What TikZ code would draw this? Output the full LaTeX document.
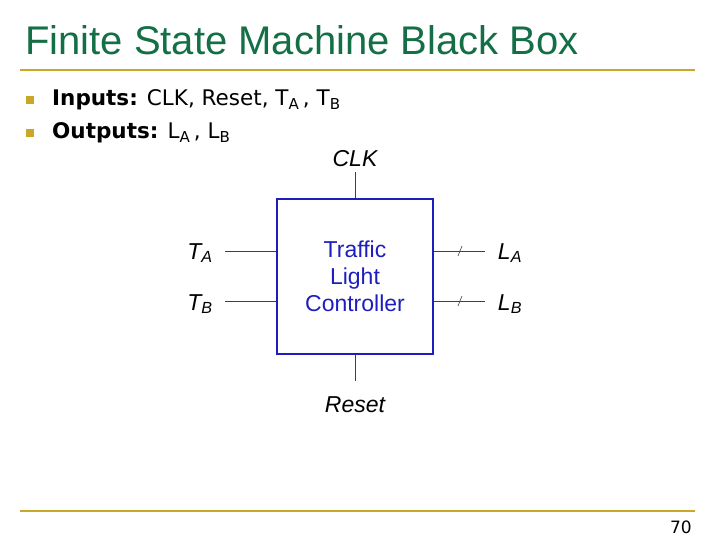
\documentclass[tikz,border=0pt]{standalone}
\usepackage{fontspec}
\setmainfont{Liberation Sans}
\newfontfamily\tah{DejaVu Sans}
\begin{document}
\begin{tikzpicture}[x=1pt,y=-1pt,
  wire/.style={draw=black!75,line width=1pt},
  lbl/.style={font=\fontsize{23}{25}\selectfont\itshape,inner sep=0pt},
  gold/.style={draw={rgb,255:red,200;green,168;blue,40},line width=2.5pt}]
\useasboundingbox (0,0) rectangle (720,540);
\definecolor{ttl}{RGB}{20,110,70}
\definecolor{gd}{RGB}{200,168,40}
\node[anchor=west,text=ttl,font=\fontsize{40}{42}\selectfont,inner sep=0pt] (title) at (25,40) {Finite State Machine Black Box};
\draw[gold] (20,70) -- (695,70);
\draw[gold] (20,511) -- (695,511);
\node[anchor=east,font=\fontsize{17}{18}\selectfont\tah,inner sep=0pt] (pg) at (692,527) {70};
\fill[gd] (26,96) rectangle (34,104);
\fill[gd] (26,129) rectangle (34,137);
\node[anchor=west,font=\fontsize{21.5}{23}\selectfont\tah,inner sep=0pt] (b1) at (52,100) {\textbf{Inputs:} CLK, Reset, T\textsubscript{A}\,, T\textsubscript{B}};
\node[anchor=west,font=\fontsize{21.5}{23}\selectfont\tah,inner sep=0pt] (b2) at (52,133) {\textbf{Outputs:} L\textsubscript{A}\,, L\textsubscript{B}};
\node[draw={rgb,255:red,30;green,30;blue,190},line width=2pt,minimum width=156,minimum height=155,inner sep=0pt,align=center,text={rgb,255:red,30;green,30;blue,190},font=\fontsize{23}{27}\selectfont] (box) at (355,276.5) {Traffic\\Light\\Controller};
\node[lbl] (clk) at (355,159) {CLK};
\node[lbl] (rst) at (355,405) {Reset};
\node[lbl] (ta) at (200,253) {T\textsubscript{A}};
\node[lbl] (tb) at (200,304) {T\textsubscript{B}};
\node[lbl] (la) at (510,253) {L\textsubscript{A}};
\node[lbl] (lb) at (510,304) {L\textsubscript{B}};
\coordinate (c1) at (355,172);
\coordinate (c2) at (355,381);
\coordinate (a1) at (225,251); \coordinate (a2) at (225,301);
\coordinate (o1) at (485,251); \coordinate (o2) at (485,301);
\draw[wire] (c1) -- (box.north);
\draw[wire] (box.south) -- (c2);
\draw[wire] (a1) -- (box.west |- a1);
\draw[wire] (a2) -- (box.west |- a2);
\draw[wire] (box.east |- o1) -- (o1);
\draw[wire] (box.east |- o2) -- (o2);
\draw[black!75,line width=0.6pt] (458,256) -- (462,246);
\draw[black!75,line width=0.6pt] (458,306) -- (462,296);
\end{tikzpicture}
\end{document}
